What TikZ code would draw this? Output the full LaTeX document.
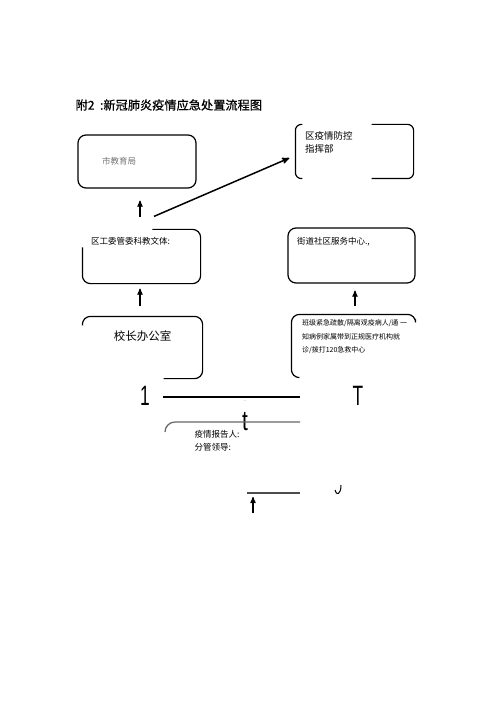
\documentclass[tikz,border=0pt]{standalone}
\usepackage{fontspec}
\setmainfont{Noto Sans CJK SC}
\newfontfamily\hei[FakeBold=0.5]{Noto Sans CJK SC}
\newfontfamily\lat{Liberation Sans}
\usepackage{tikz}
\usetikzlibrary{positioning}
\usetikzlibrary{calc}
\usetikzlibrary{arrows}
\tikzset{
bx/.style={
  rectangle,
  rounded corners=8pt,
  inner sep=0pt,
  draw=black
  },
lb/.style={
  inner sep=0pt,
  anchor=north west,
  align=left,
  text=black,
  font=\fontsize{8.5}{13}\selectfont
  },
glyph/.style={inner sep=0pt,xscale=0.62,font=\lat\fontsize{28}{28}\selectfont}
}

\begin{document}
\begin{tikzpicture}[x=1pt,y=-1pt,->,>=stealth',line width=1.2pt]
            \useasboundingbox (0,0) rectangle (500,708);
            \fill[white] (0,0) rectangle (500,708);
            \node[lb,anchor=west,font=\hei\fontsize{12.2}{14}\selectfont] (title) at (75,105) {附2\ \ :新冠肺炎疫情应急处置流程图};
            % boxes
            \node[bx,minimum width=118pt,minimum height=53pt] (b1) at (137,161.5) {};
            \node[bx,draw=none,minimum width=117pt,minimum height=53pt] (b2) at (354.5,151.5) {};
            \node[bx,draw=none,minimum width=117pt,minimum height=53pt] (b3) at (141.5,256.5) {};
            \node[bx,minimum width=127pt,minimum height=55pt] (b4) at (351.5,255.5) {};
            \node[bx,draw=none,minimum width=119pt,minimum height=61pt] (b5) at (142.5,347.5) {};
            \node[bx,draw=none,minimum width=123pt,minimum height=62pt] (b6) at (353.5,346) {};
            % broken outlines
            \path[-,draw,rounded corners=6pt]
            ([xshift=7pt]b2.north west) -- (b2.north west) -- (b2.south west) -- ([xshift=7pt]b2.south west)
            ([xshift=-42pt]b2.north east) -- (b2.north east) -- (b2.south east) -- ([xshift=-42pt]b2.south east);
            \path[-,draw,rounded corners=8pt]
            ([xshift=70pt]b3.north west) -- (b3.north east) -- (b3.south east) -- (b3.south west) -- ([yshift=-18pt]b3.north west)
            ([yshift=-9pt]b5.north west) -- (b5.north west) -- (b5.north east) -- (b5.south east) -- ([xshift=-39pt]b5.south east)
            ([yshift=-5pt]b6.north east) -- (b6.north east) -- (b6.north west) -- (b6.south west) -- ([xshift=8pt]b6.south west);
            % texts
            \node[lb,anchor=west,text=black!55] (t1) at ([xshift=24pt]b1.west) {市教育局};
            \node[lb,font=\fontsize{9.5}{13}\selectfont] (t2) at ([xshift=9pt,yshift=-6pt]b2.north west) {区疫情防控\\指挥部};
            \node[lb,anchor=west] (t3) at ([xshift=8pt,yshift=-12pt]b3.north west) {区工委管委科教文体:};
            \node[lb,anchor=west] (t4) at ([xshift=9pt,yshift=-14pt]b4.north west) {街道社区服务中心.,};
            \node[lb,anchor=center,font=\fontsize{11.5}{13}\selectfont] (t5) at ([yshift=-20pt]b5.north) {校长办公室};
            \node[lb,font=\fontsize{7}{13.5}\selectfont] (t6) at ([xshift=10pt,yshift=-5pt]b6.north west)
            {班级紧急疏散/隔离观疫病人/通 一\\知病例家属带到正规医疗机构就\\诊/拨打120急救中心};
            \node[lb] (t7) at (194,430) {疫情报告人:\\分管领导:};
            % stray marks
            \node[glyph] (g1) at (145,396) {1};
            \node[glyph] (g2) at (358,396) {T};
            \node[glyph,xscale=1.2] (g3) at (245,422) {t};
            \node[lb,anchor=center,text=black!50,font=\fontsize{5}{5}\selectfont] (g4) at (245,401) {..};
            \coordinate (la) at (163,397);
            \coordinate (lb) at (300,397);
            \coordinate (lc) at (300,422);
            \coordinate (ld) at (247,493);
            \coordinate (le) at (300,493);
            \coordinate (lf) at (253,513);
            \draw[-] (la) -- (lb);
            \draw[-,black!60,rounded corners=10pt] (165,432) -- (165,422) -- (lc);
            \draw[-,black!70] (ld) -- (le);
            \draw[-,line width=1pt] (341,485) .. controls (341,495) and (336,496) .. (335,490);
            % arrows
            \path[->]
            ([xshift=-1.5pt,yshift=12pt]b3.north) edge [] node {} ([xshift=3pt,yshift=-12pt]b1.south)
            ([xshift=12.5pt,yshift=13pt]b3.north) edge [line width=1.5pt] node {} ([xshift=-6pt,yshift=-6.5pt]b2.west)
            ([xshift=-2.5pt,yshift=10pt]b5.north) edge [] node {} ([xshift=-1.5pt,yshift=-5pt]b3.south)
            ([xshift=1.5pt,yshift=8pt]b6.north) edge [] node {} ([xshift=3.5pt,yshift=-7pt]b4.south)
            (lf) edge [] node {} ([xshift=6pt,yshift=-4pt]ld)
            ;
        \end{tikzpicture}
\end{document}
